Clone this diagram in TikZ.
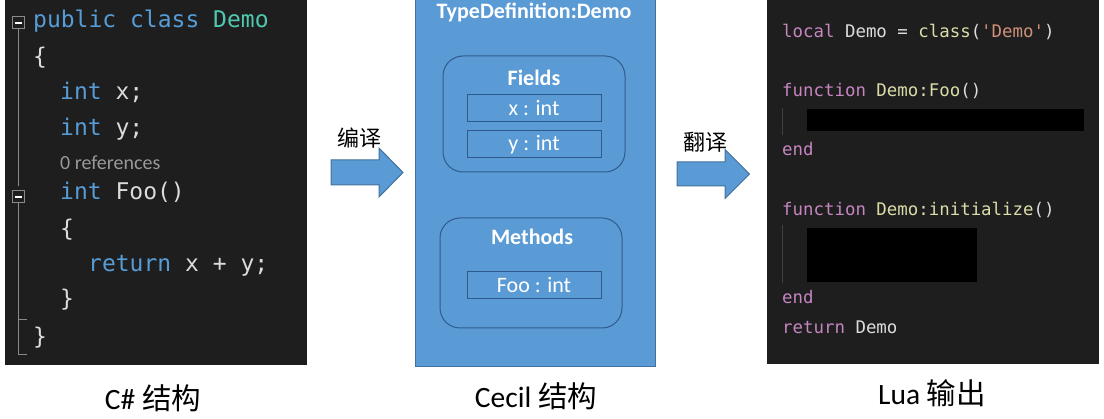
\documentclass[tikz,border=0pt]{standalone}
\usepackage{fontspec}
\setmainfont{Carlito}
\setmonofont{DejaVu Sans Mono}
\newfontfamily\cjk{Noto Sans CJK SC}
\usetikzlibrary{positioning,calc}
\definecolor{panelbg}{HTML}{1E1E1E}
\definecolor{cecilblue}{HTML}{5B9BD5}
\definecolor{cecilline}{HTML}{41719C}
\definecolor{groupline}{HTML}{2F5B8C}
\definecolor{kwblue}{HTML}{569CD6}
\definecolor{typeteal}{HTML}{4EC9B0}
\definecolor{plain}{HTML}{DCDCDC}
\definecolor{hint}{HTML}{999999}
\definecolor{guide}{HTML}{8A8A8A}
\definecolor{luaguide}{HTML}{404040}
\definecolor{luakw}{HTML}{C586C0}
\definecolor{luafn}{HTML}{DCDCAA}
\definecolor{luastr}{HTML}{CE9178}
\newcommand{\csfont}{\ttfamily\fontsize{23}{23}\selectfont}
\newcommand{\luafont}{\ttfamily\fontsize{17.4}{17.4}\selectfont}
\tikzset{
    panel/.style={fill=panelbg, draw=none},
    cecil/.style={fill=cecilblue, draw=cecilline, line width=1pt},
    group/.style={draw=groupline, line width=1pt, rounded corners=20pt},
    member/.style={draw=groupline, line width=1pt, minimum width=134pt, minimum height=27pt, inner sep=0pt, text=white, font=\fontsize{22}{22}\selectfont},
    heading/.style={text=white, inner sep=0pt, font=\bfseries\fontsize{22}{22}\selectfont},
    csline/.style={anchor=base west, inner sep=0pt, font=\csfont, text=plain},
    lualine/.style={anchor=base west, inner sep=0pt, font=\luafont, text=plain},
    flow/.style={fill=cecilblue, draw=cecilline, line width=1pt},
    flowlabel/.style={inner sep=0pt, font=\cjk\fontsize{22}{22}\selectfont},
    caption/.style={inner sep=0pt, font=\fontsize{29.5}{29.5}\selectfont},
    fold/.style={draw=guide, line width=1pt, minimum size=12pt, inner sep=0pt}
}

\begin{document}
\begin{tikzpicture}[x=1pt, y=-1pt]
    \useasboundingbox (0,0) rectangle (1104,419);

    % C# source
    \fill[panel] (5,0) rectangle (307,365);
    \node[fold] (fold1) at (18,23) {};
    \node[fold] (fold2) at (18,197) {};
    \draw[guide, line width=1pt] (fold1.south) -- (18,186);
    \draw[guide, line width=1pt] (fold2.south) -- (18,355) -- (27,355);
    \draw[guide, line width=1pt] (18,320) -- (27,320);
    \draw[white, line width=1.2pt] ($(fold1.west)+(3,0)$) -- ($(fold1.east)+(-3,0)$);
    \draw[white, line width=1.2pt] ($(fold2.west)+(3,0)$) -- ($(fold2.east)+(-3,0)$);
    \node[csline] (cs1) at (33,28) {\textcolor{kwblue}{public class} \textcolor{typeteal}{Demo}};
    \node[csline] (cs2) at (33,65) {\{};
    \node[csline] (cs3) at (60,100) {\textcolor{kwblue}{int} x;};
    \node[csline] (cs4) at (60,136) {\textcolor{kwblue}{int} y;};
    \node[anchor=base west, inner sep=0pt, text=hint, font=\fontsize{20}{20}\selectfont] (refs) at (60,170) {0 references};
    \node[csline] (cs5) at (60,200) {\textcolor{kwblue}{int} Foo()};
    \node[csline] (cs6) at (60,237) {\{};
    \node[csline] (cs7) at (88,272) {\textcolor{kwblue}{return} x + y;};
    \node[csline] (cs8) at (60,307) {\}};
    \node[csline] (cs9) at (33,345) {\}};

    % Cecil structure
    \fill[cecil] (415,0) rectangle (655,367);
    \node[heading] (typedef) at (534,12) {TypeDefinition:Demo};
    \draw[group] (443,56) rectangle (625,172);
    \node[member] (fx) at (534,108.5) {x : int};
    \node[member, below=8pt of fx] (fy) {y : int};
    \node[heading, above=9pt of fx] (fields) {Fields};
    \draw[group] (440,218) rectangle (622,328);
    \node[member] (mfoo) at (534,285) {Foo : int};
    \node[heading] (methods) at (532,237) {Methods};

    % block arrows
    \coordinate (a1) at (331,160);
    \draw[flow] (a1) -- ++(48,0) -- ++(0,-12) -- ++(24,24.5) -- ++(-24,24.5) -- ++(0,-12) -- ++(-48,0) -- cycle;
    \node[flowlabel] (compile) at (359,138) {编译};
    \coordinate (a2) at (677,162);
    \draw[flow] (a2) -- ++(48,0) -- ++(0,-12.5) -- ++(24.5,24.5) -- ++(-24.5,24.5) -- ++(0,-12.5) -- ++(-48,0) -- cycle;
    \node[flowlabel] (translate) at (705,142) {翻译};

    % Lua output
    \fill[panel] (767,0) rectangle (1099,364);
    \node[lualine] (lua1) at (782,38) {\textcolor{luakw}{local} Demo = \textcolor{luafn}{class}(\textcolor{luastr}{'Demo'})};
    \node[lualine] (lua2) at (782,97) {\textcolor{luakw}{function} \textcolor{luafn}{Demo:Foo}()};
    \fill[black] (807,109) rectangle (1084,131);
    \draw[luaguide, line width=0.8pt] (782,108) -- (782,135);
    \node[lualine] (lua3) at (782,156) {\textcolor{luakw}{end}};
    \node[lualine] (lua4) at (782,216) {\textcolor{luakw}{function} \textcolor{luafn}{Demo:initialize}()};
    \fill[black] (807,228) rectangle (977,282);
    \draw[luaguide, line width=0.8pt] (782,225) -- (782,283);
    \node[lualine] (lua5) at (782,304) {\textcolor{luakw}{end}};
    \node[lualine] (lua6) at (782,334) {\textcolor{luakw}{return} Demo};

    % captions
    \node[caption] (capcs) at (153,398) {C\# {\cjk 结构}};
    \node[caption] (capcecil) at (536,396) {Cecil {\cjk 结构}};
    \node[caption] (caplua) at (932,393) {Lua {\cjk 输出}};
\end{tikzpicture}
\end{document}
